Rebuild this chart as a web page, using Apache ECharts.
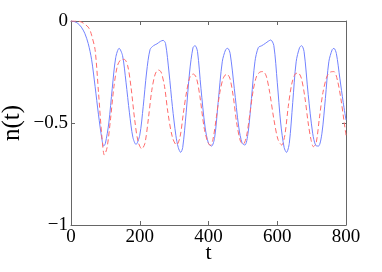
<!DOCTYPE html>
<html><head><meta charset="utf-8">
<script src="https://cdn.jsdelivr.net/npm/echarts@6/dist/echarts.min.js"></script>
<style>html,body{margin:0;padding:0;background:#fff}#c{width:382px;height:272px}</style>
</head><body><div id="c"></div>
<script>
const xTicks = [0, 200, 400, 600, 800];
const yTicks = [-1, -0.5, 0];
const tBlue = [0,10,20,30,40,50,60,70,80,90,95,100,110,120,130,140,150,160,170,180,189,200,210,220,230,240,250,260,268,275,285,295,305,312,319,325,335,345,355,361,368,378,390,400,409,418,428,440,450,456,463,475,488,498,506,515,525,535,545,555,565,575,581,590,600,610,620,627,635,645,655,665,671,678,690,703,712,720,730,740,750,760,765,772,782,792,800];
const nBlue = [0,-0.003,-0.012,-0.03,-0.06,-0.11,-0.19,-0.32,-0.46,-0.58,-0.613,-0.6,-0.5,-0.33,-0.18,-0.134,-0.17,-0.3,-0.45,-0.57,-0.605,-0.56,-0.42,-0.25,-0.14,-0.121,-0.112,-0.1,-0.095,-0.11,-0.25,-0.42,-0.56,-0.62,-0.644,-0.62,-0.45,-0.25,-0.13,-0.121,-0.15,-0.33,-0.52,-0.6,-0.613,-0.57,-0.4,-0.2,-0.14,-0.134,-0.16,-0.33,-0.52,-0.6,-0.608,-0.55,-0.38,-0.2,-0.13,-0.121,-0.11,-0.098,-0.093,-0.12,-0.3,-0.5,-0.62,-0.644,-0.6,-0.4,-0.2,-0.13,-0.121,-0.15,-0.36,-0.55,-0.61,-0.613,-0.55,-0.38,-0.2,-0.14,-0.134,-0.16,-0.28,-0.4,-0.486];
const tRed = [0,20,30,40,50,55,60,70,80,90,97,105,115,125,135,145,155,165,175,185,195,206,215,225,235,245,254,262,272,282,295,307,317,327,337,347,356,365,375,387,397,405,413,423,433,443,453,462,472,482,493,501,510,520,530,540,550,559,568,578,590,602,613,622,632,642,652,661,670,680,690,698,705,713,723,733,745,755,765,775,785,795,800];
const nRed = [0,0,-0.005,-0.015,-0.03,-0.044,-0.07,-0.14,-0.35,-0.57,-0.657,-0.62,-0.48,-0.32,-0.22,-0.19,-0.188,-0.22,-0.33,-0.48,-0.59,-0.627,-0.6,-0.48,-0.34,-0.26,-0.24,-0.25,-0.32,-0.45,-0.57,-0.608,-0.57,-0.45,-0.34,-0.27,-0.26,-0.28,-0.37,-0.52,-0.59,-0.61,-0.58,-0.47,-0.35,-0.28,-0.26,-0.28,-0.37,-0.5,-0.59,-0.603,-0.57,-0.46,-0.34,-0.27,-0.25,-0.248,-0.27,-0.35,-0.48,-0.58,-0.608,-0.56,-0.42,-0.31,-0.26,-0.255,-0.28,-0.37,-0.5,-0.58,-0.616,-0.6,-0.47,-0.35,-0.27,-0.25,-0.248,-0.29,-0.38,-0.5,-0.56];

const F = 'Liberation Serif';
const fmt = v => v < 0 ? '\u2212' + String(-v) : String(v);
const lineC = '#666';
const ax = (extra) => Object.assign({
  axisLine: {show: true, onZero: false, lineStyle: {color: lineC, width: 1}},
  axisTick: {show: true, inside: true, length: 4, lineStyle: {color: lineC}},
  splitLine: {show: false}
}, extra);

const chart = echarts.init(document.getElementById('c'), null, {renderer: 'canvas'});
chart.setOption({
  animation: false,
  grid: {left: 71, right: 36, top: 21, bottom: 47, containLabel: false, outerBoundsMode: 'none'},
  xAxis: [
    ax({type: 'value', min: xTicks[0], max: xTicks[xTicks.length-1], interval: 200, position: 'bottom',
      name: 't', nameLocation: 'middle', nameGap: 17, nameMoveOverlap: false,
      nameTextStyle: {fontFamily: F, fontSize: 22, color: '#000'},
      axisLabel: {fontFamily: F, fontSize: 19, color: '#000', margin: 3, formatter: fmt}}),
    ax({type: 'value', min: 0, max: 800, interval: 200, position: 'top', axisLabel: {show: false}})
  ],
  yAxis: [
    ax({type: 'value', min: yTicks[0], max: yTicks[yTicks.length-1], interval: 0.5, position: 'left',
      name: 'n(t)', nameLocation: 'middle', nameGap: 46, nameMoveOverlap: false,
      nameTextStyle: {fontFamily: F, fontSize: 25, color: '#000'},
      axisLabel: {fontFamily: F, fontSize: 19, color: '#000', margin: 3, formatter: fmt}}),
    ax({type: 'value', min: -1, max: 0, interval: 0.5, position: 'right', axisLabel: {show: false}})
  ],
  series: [
    {type: 'line', data: tBlue.map((t, i) => [t, nBlue[i]]), smooth: 0.3, showSymbol: false,
     lineStyle: {color: '#7282ff', width: 1}},
    {type: 'line', data: tRed.map((t, i) => [t, nRed[i]]), smooth: 0.3, showSymbol: false,
     lineStyle: {color: '#ff6b6b', width: 1, type: [5, 3]}}
  ]
});
</script></body></html>
